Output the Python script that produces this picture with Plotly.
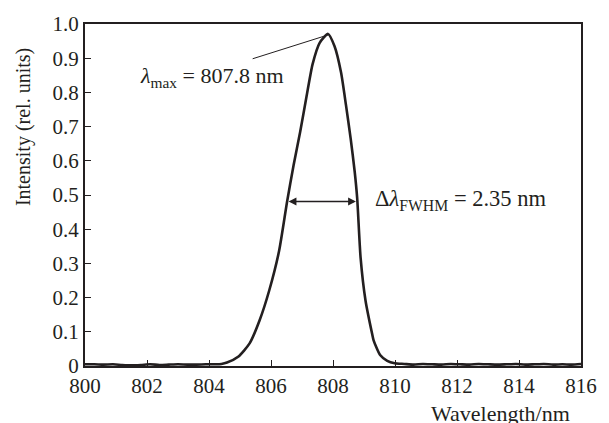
import plotly.graph_objects as go

wavelength = [800.0, 800.3, 800.6, 800.9, 801.2, 801.5, 801.8, 802.1, 802.4, 802.7, 803.0,
              803.3, 803.6, 803.9, 804.2, 804.4, 804.58, 804.94, 805.31, 805.63, 805.94,
              806.26, 806.52, 806.73, 806.94, 807.15, 807.34, 807.57, 807.84, 808.05,
              808.26, 808.42, 808.57, 808.70, 808.78, 808.89, 809.05, 809.26, 809.31,
              809.52, 809.75, 809.99, 810.3, 810.6, 810.9, 811.2, 811.5, 811.8, 812.1,
              812.4, 812.7, 813.0, 813.3, 813.6, 813.9, 814.2, 814.5, 814.8, 815.1,
              815.4, 815.7, 816.0]
intensity = [0.005, 0.005, 0.004, 0.005, 0.003, 0.002, 0.003, 0.005, 0.003, 0.004, 0.005,
             0.004, 0.004, 0.005, 0.005, 0.006, 0.010, 0.027, 0.066, 0.133, 0.220,
             0.336, 0.481, 0.588, 0.684, 0.790, 0.882, 0.945, 0.971, 0.935,
             0.858, 0.762, 0.665, 0.568, 0.491, 0.317, 0.191, 0.095, 0.075,
             0.032, 0.015, 0.008, 0.006, 0.004, 0.006, 0.005, 0.004, 0.006, 0.005,
             0.004, 0.006, 0.005, 0.004, 0.005, 0.006, 0.004, 0.005, 0.006, 0.004,
             0.005, 0.004, 0.006]

x_ticks = [800, 802, 804, 806, 808, 810, 812, 814, 816]
y_ticks = [0, 0.1, 0.2, 0.3, 0.4, 0.5, 0.6, 0.7, 0.8, 0.9, 1.0]
y_tick_labels = ["0", "0.1", "0.2", "0.3", "0.4", "0.5", "0.6", "0.7", "0.8", "0.9", "1.0"]

peak_x, peak_y = 807.84, 0.968
fwhm_left, fwhm_right, fwhm_y = 806.52, 808.74, 0.481

FONT = "Liberation Serif"
INK = "#231f20"

fig = go.Figure()
fig.add_trace(go.Scatter(x=wavelength, y=intensity, mode="lines",
                         line=dict(color=INK, width=2.6, shape="spline", smoothing=0.6),
                         showlegend=False, hoverinfo="skip"))

fig.update_layout(
    width=609, height=423,
    margin=dict(l=85, r=17, t=21, b=57),
    paper_bgcolor="white", plot_bgcolor="white",
    font=dict(family=FONT, size=21, color=INK),
    xaxis=dict(range=[800, 816], tickvals=x_ticks, ticks="inside", ticklen=6, tickwidth=1.2,
               tickcolor=INK, showline=True, linecolor=INK, linewidth=2.2, mirror=True,
               showgrid=False, zeroline=False, tickfont=dict(family=FONT, size=21)),
    yaxis=dict(range=[0, 1.0], tickvals=y_ticks, ticktext=y_tick_labels, ticks="inside",
               ticklen=6, tickwidth=1.2, tickcolor=INK, showline=True, linecolor=INK,
               linewidth=2.2, mirror=True, showgrid=False, zeroline=False,
               tickfont=dict(family=FONT, size=21)),
)

# y axis title (placed as in the reference, upper part of the axis)
fig.add_annotation(x=-0.124, y=0.70, xref="paper", yref="paper", xanchor="center",
                   yanchor="middle", textangle=-90, showarrow=False,
                   text="Intensity (rel. units)", font=dict(family=FONT, size=20, color=INK))
# lambda_max leader line and text
fig.add_annotation(x=peak_x, y=peak_y, ax=805.36, ay=0.897, xref="x", yref="y",
                   axref="x", ayref="y", showarrow=True, arrowhead=0, arrowwidth=1,
                   arrowcolor=INK, text="")
fig.add_annotation(x=806.47, y=0.845, xref="x", yref="y", xanchor="right", yanchor="middle",
                   showarrow=False, text="<i>λ</i><sub>max</sub> = 807.8 nm",
                   font=dict(family=FONT, size=22, color=INK))
# FWHM double arrow
fig.add_annotation(x=fwhm_right, y=fwhm_y, ax=fwhm_left, ay=fwhm_y, xref="x", yref="y",
                   axref="x", ayref="y", showarrow=True, arrowhead=2, startarrowhead=2,
                   arrowside="end+start", arrowsize=1.2, startarrowsize=1.2, arrowwidth=1.3,
                   arrowcolor=INK, text="")
fig.add_annotation(x=809.3, y=0.484, xref="x", yref="y", xanchor="left", yanchor="middle",
                   showarrow=False, text="Δ<i>λ</i><sub>FWHM</sub> = 2.35 nm",
                   font=dict(family=FONT, size=22.5, color=INK))
# x axis title
fig.add_annotation(x=0.982, y=-0.097, xref="paper", yref="paper", xanchor="right", yanchor="top",
                   showarrow=False, text="Wavelength/nm", font=dict(family=FONT, size=22, color=INK))

fig.write_html("out.html")
